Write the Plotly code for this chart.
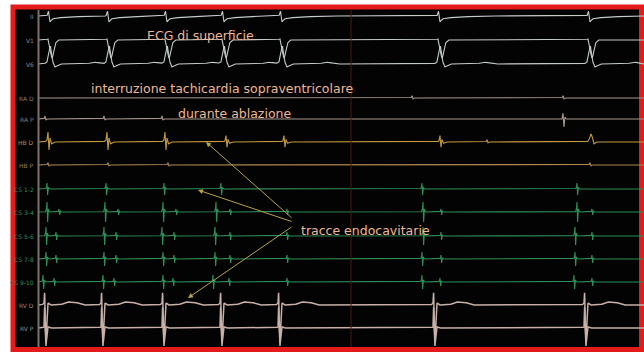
import numpy as np
import plotly.graph_objects as go

# ---------------- data ----------------
channels = ["II", "V1", "V6", "RA D", "RA P", "HB D", "HB P",
            "CS 1-2", "CS 3-4", "CS 5-6", "CS 7-8", "CS 9-10", "RV D", "RV P"]

# event times (ms) per channel
surface_beats = [40, 335, 625, 910, 1200, 1990, 2740]
ra_d_events = [1860, 2615]
ra_p_small = [25, 320, 610]
ra_p_big = [2615]
hb_d_big = [40, 335, 625]
hb_d_mid = [930, 1220, 2000]
hb_d_small = [2235]
hb_d_hump = [2750]
hb_p_events = [40, 340, 640, 2750]
cs12_events = [35, 330, 620, 905, 1910, 2685]
cs34_events = [35, 325, 615, 880, 1915, 2685]
cs34_small = [95, 390, 680, 950, 1235, 2005, 2760]
cs56_events = [30, 320, 610, 875, 1915, 2675]
cs56_small = [80, 380, 670, 950, 1235, 2005, 2760]
cs78_events = [30, 320, 615, 875, 1910, 2675]
cs78_small = [80, 380, 670, 950, 1235, 2005, 2760]
cs910_events = [15, 315, 615, 865, 1910, 2670]
cs910_small = [70, 370, 665, 945, 1235, 2000, 2760]
rv_beats = [25, 310, 615, 905, 1195, 1970, 2725]

# ---------------- layout helpers ----------------
MS_PX = 5.0          # ms per pixel
X0_PX = 40.0         # pixel of time zero


def t_of(px):
    return (px - X0_PX) * MS_PX


baseline = {"II": 16, "V1": 40, "V6": 64, "RA D": 98, "RA P": 119,
            "HB D": 142, "HB P": 165, "CS 1-2": 189, "CS 3-4": 212,
            "CS 5-6": 236, "CS 7-8": 259, "CS 9-10": 282, "RV D": 305, "RV P": 328}

col_ecg = "#c4ccc8"
col_ra = "#a8968e"
col_hbd = "#c49a3e"
col_hbp = "#b08a52"
col_cs = "#2f9057"
col_rv = "#c8b0a8"
colors = {"II": col_ecg, "V1": col_ecg, "V6": col_ecg, "RA D": col_ra, "RA P": col_ra,
          "HB D": col_hbd, "HB P": col_hbp, "CS 1-2": col_cs, "CS 3-4": col_cs,
          "CS 5-6": col_cs, "CS 7-8": col_cs, "CS 9-10": col_cs, "RV D": col_rv, "RV P": col_rv}
label_colors = {"II": "#8a8a88", "V1": "#8a8a88", "V6": "#8a8a88", "RA D": "#8a7e78",
                "RA P": "#8a7e78", "HB D": "#b09040", "HB P": "#a07c4c", "CS 1-2": "#3a8a55",
                "CS 3-4": "#3a8a55", "CS 5-6": "#3a8a55", "CS 7-8": "#3a8a55",
                "CS 9-10": "#3a8a55", "RV D": "#9a8882", "RV P": "#9a8882"}

# waveform templates: (dt in px, upward deflection in px)
T = {
    "II": ([-4, -1, 0.5, 2, 4, 8, 20, 45], [0, 0, 5, -6, -3, -2, -1, 0]),
    "V1": ([-3, 0, 2, 4, 5, 7, 10], [0, 1, -12, -18, -16, -4, 0]),
    "V6": ([-4, -1, 1, 2.5, 4, 7, 12, 38, 46, 56], [0, 2, 15, 18, 4, -3, 0, 0, 2, 0]),
    "tick": ([-1, 0, 1, 2], [0, 3, -1, 0]),
    "ra_big": ([-1, 0, 1, 2, 3], [0, 6, -8, 2, 0]),
    "hb": ([-3, -1, 0, 1, 2, 3.5, 6], [0, 2, 10, -8, 4, -2, 0]),
    "hump": ([-3, -1, 1, 2, 4, 6], [0, 2, 8, 6, -2, 0]),
    "cs": ([-1.5, -0.5, 0, 0.6, 1.4, 2.5], [0, 0.3, 1, -1, 0.3, 0]),
    "rvd": ([-3, -1, -0.3, 0.3, 1, 2, 3, 5, 15, 22, 30, 38, 45],
            [0, 2, 14, -30, -38, -10, 2, 0, 0, 3, 3, 0, 0]),
    "rvp": ([-3, -1, -0.3, 0.3, 1, 2, 3, 5], [0, 1, 24, -15, -18, -4, 1, 0]),
}

t = np.arange(t_of(38), t_of(644) + 1, 1.0)


def wave(events, template, amp=1.0):
    dts, dys = T[template]
    dts = np.array(dts) * MS_PX
    dys = np.array(dys, dtype=float) * amp
    y = np.zeros_like(t)
    for e in events:
        y += np.interp(t, e + dts, dys, left=0, right=0)
    return y


sig = {}
sig["II"] = wave(surface_beats, "II")
sig["V1"] = wave(surface_beats, "V1")
sig["V6"] = wave(surface_beats, "V6")
sig["RA D"] = wave(ra_d_events, "tick", 0.8)
sig["RA P"] = wave(ra_p_small, "tick", 1.0) + wave(ra_p_big, "ra_big")
sig["HB D"] = (wave(hb_d_big, "hb") + wave(hb_d_mid, "hb", 0.65)
               + wave(hb_d_small, "tick", 0.8) + wave(hb_d_hump, "hump"))
sig["HB P"] = wave(hb_p_events, "tick", 0.8)
sig["CS 1-2"] = wave(cs12_events, "cs", 6)
sig["CS 3-4"] = wave(cs34_events, "cs", 10) + wave(cs34_small, "cs", 3)
sig["CS 5-6"] = wave(cs56_events, "cs", 9) + wave(cs56_small, "cs", 4)
sig["CS 7-8"] = wave(cs78_events, "cs", 7) + wave(cs78_small, "cs", 4)
sig["CS 9-10"] = wave(cs910_events, "cs", 7) + wave(cs910_small, "cs", 4)
sig["RV D"] = wave(rv_beats, "rvd")
sig["RV P"] = wave(rv_beats, "rvp")

fig = go.Figure()

for ch in channels:
    width = 1.5 if ch in ("RV D", "RV P") else 1.1
    fig.add_trace(go.Scatter(x=t, y=baseline[ch] - sig[ch], mode="lines",
                             line=dict(color=colors[ch], width=width),
                             hoverinfo="skip", showlegend=False))

# channel labels
for ch in channels:
    fig.add_annotation(x=t_of(36), y=baseline[ch], text=ch, showarrow=False,
                       xanchor="right", yanchor="middle",
                       font=dict(family="DejaVu Sans", size=6, color=label_colors[ch]))

# frame, background, axis line, marker line
fig.add_shape(type="rect", x0=t_of(13), x1=t_of(641.5), y0=7, y1=349.5,
              line=dict(color="#e31b1b", width=5), fillcolor="#030303", layer="below")
fig.add_shape(type="line", x0=t_of(38.5), x1=t_of(38.5), y0=10, y1=347,
              line=dict(color="#7c706c", width=2))
fig.add_shape(type="line", x0=t_of(351), x1=t_of(351), y0=10, y1=347,
              line=dict(color="#4a1c14", width=1))

txt_font = dict(family="DejaVu Sans", size=12.5, color="#eeb898")
fig.add_annotation(x=t_of(200), y=35, text="ECG di superficie", showarrow=False, font=txt_font)
fig.add_annotation(x=t_of(222), y=88, text="interruzione tachicardia sopraventricolare",
                   showarrow=False, font=txt_font)
fig.add_annotation(x=t_of(234), y=113, text="durante ablazione", showarrow=False, font=txt_font)
fig.add_annotation(x=t_of(365), y=230, text="tracce endocavitarie", showarrow=False, font=txt_font)

arrow_col = "#b4a448"
for (tx, ty), (hx, hy) in [((293, 219), (206, 142)), ((293, 222), (198, 190)),
                           ((293, 226), (188, 298))]:
    fig.add_annotation(x=t_of(hx), y=hy, ax=t_of(tx), ay=ty, axref="x", ayref="y",
                       xref="x", yref="y", showarrow=True, arrowhead=2, arrowsize=1,
                       arrowwidth=1, arrowcolor=arrow_col, text="")

fig.update_layout(
    width=644, height=352, margin=dict(l=0, r=0, t=0, b=0),
    paper_bgcolor="white", plot_bgcolor="white",
    xaxis=dict(range=[t_of(0), t_of(644)], visible=False, fixedrange=True),
    yaxis=dict(range=[352, 0], visible=False, fixedrange=True),
)

fig.write_html("out.html", config={"displayModeBar": False},
               post_script="document.body.style.margin='0';document.body.style.overflow='hidden';")
